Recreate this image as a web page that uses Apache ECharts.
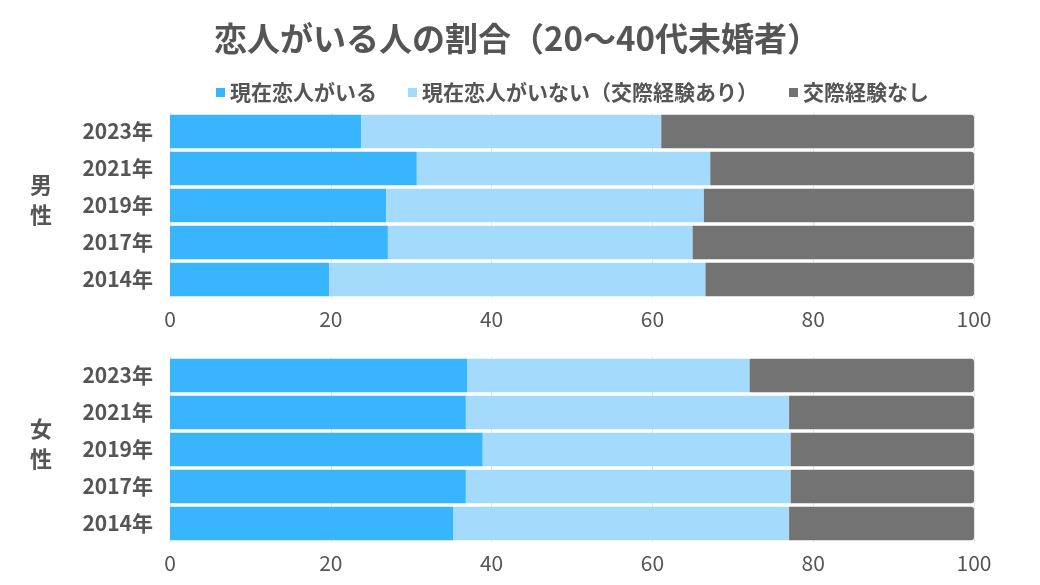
<!DOCTYPE html>
<html><head><meta charset="utf-8">
<script src="https://cdn.jsdelivr.net/npm/echarts@6/dist/echarts.min.js"></script>
<style>html,body{margin:0;padding:0;background:#fff}#c{width:1040px;height:585px}</style>
</head><body><div id="c"></div>
<script>
const years = ['2014年','2017年','2019年','2021年','2023年'];
const seriesNames = ['現在恋人がいる','現在恋人がいない（交際経験あり）','交際経験なし'];
const groupLabels = ['男\n性','女\n性'];
const xTicks = [0,20,40,60,80,100];
// values ordered as years (2014 -> 2023)
const maleHas   = [19.8, 27.1, 26.9, 30.7, 23.8];
const maleNone  = [46.8, 37.9, 39.5, 36.5, 37.3];
const maleNever = [33.4, 35.0, 33.6, 32.8, 38.9];
const femHas    = [35.2, 36.8, 38.9, 36.8, 37.0];
const femNone   = [41.8, 40.4, 38.3, 40.2, 35.1];
const femNever  = [23.0, 22.8, 22.8, 23.0, 27.9];

const colors = ['#38B5FD','#A4DBFC','#737373'];
const font = '"Noto Sans CJK JP","Noto Sans",sans-serif';
const txt = '#555555';

function xAxis(i){return {gridIndex:i,type:'value',min:0,max:100,interval:20,
  axisLine:{show:false},axisTick:{show:false},
  splitLine:{show:true,lineStyle:{color:'#e6e6e6',width:1}},
  axisLabel:{color:txt,fontSize:21,fontFamily:font,margin:11}};}
function yAxis(i){return {gridIndex:i,type:'category',data:years,
  axisLine:{show:false},axisTick:{show:false},
  axisLabel:{color:txt,fontSize:21,fontWeight:'bold',fontFamily:font,margin:17}};}
function bar(name,data,i,ci,last){return {name:name,type:'bar',stack:'s'+i,xAxisIndex:i,yAxisIndex:i,
  data:data,barCategoryGap:'10%',itemStyle:{color:colors[ci],borderRadius:last?[0,3,3,0]:0}};}

const chart = echarts.init(document.getElementById('c'),null,{renderer:'canvas'});
chart.setOption({
  backgroundColor:'#fff',
  animation:false,
  title:{text:'恋人がいる人の割合（20〜40代未婚者）',left:512,top:17,textAlign:'center',
    textStyle:{color:txt,fontSize:33,fontWeight:'bold',fontFamily:font}},
  legend:{data:seriesNames,top:77,left:211,itemWidth:9,itemHeight:9,itemGap:31,icon:'rect',
    textStyle:{color:txt,fontSize:21,fontWeight:'bold',fontFamily:font}},
  grid:[{left:170,right:66,top:113,height:185},{left:170,right:66,top:357,height:185}],
  xAxis:[xAxis(0),xAxis(1)],
  yAxis:[yAxis(0),yAxis(1)],
  graphic:[
    {type:'text',left:30,top:170,style:{text:groupLabels[0],fill:txt,font:'bold 22px '+font,lineHeight:30}},
    {type:'text',left:30,top:414,style:{text:groupLabels[1],fill:txt,font:'bold 22px '+font,lineHeight:30}}
  ],
  series:[
    bar(seriesNames[0],maleHas,0,0,false),
    bar(seriesNames[1],maleNone,0,1,false),
    bar(seriesNames[2],maleNever,0,2,true),
    bar(seriesNames[0],femHas,1,0,false),
    bar(seriesNames[1],femNone,1,1,false),
    bar(seriesNames[2],femNever,1,2,true)
  ]
});
</script></body></html>
